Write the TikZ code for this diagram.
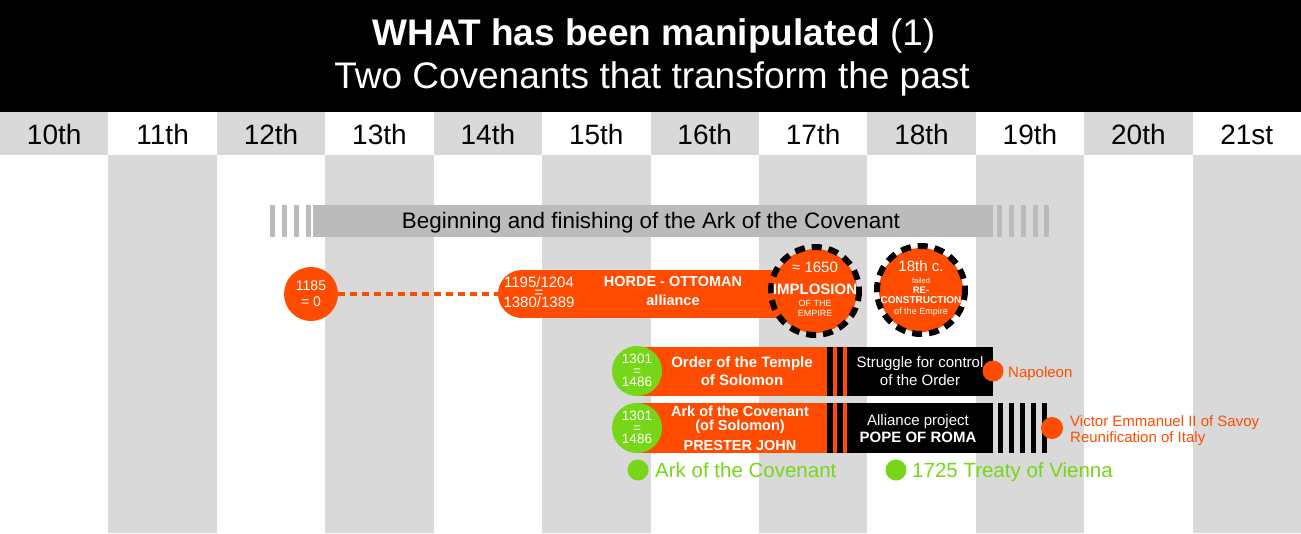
\documentclass[tikz,border=0pt]{standalone}
\usepackage{fontspec}
\setmainfont{Liberation Sans}
\newcommand\myfs[1]{\fontsize{#1}{#1}\selectfont}
\newcommand\myfsl[2]{\fontsize{#1}{#2}\selectfont\lineskiplimit=-100pt\relax}
\definecolor{org}{RGB}{255,76,0}
\definecolor{grn}{RGB}{117,215,24}
\definecolor{lg}{RGB}{217,217,217}
\definecolor{bargray}{RGB}{187,187,187}
\tikzset{
  lbl/.style={inner sep=0pt, anchor=base},
  wlbl/.style={lbl, text=white},
  blbl/.style={lbl, text=black},
  wblock/.style={inner sep=0pt, align=center, text=white},
  olbl/.style={inner sep=0pt, anchor=base west, text=org},
  glbl/.style={inner sep=0pt, anchor=base west, text=grn},
  dashring/.style={draw=black, line width=6pt, dash pattern=on 10pt off 7pt},
  dotline/.style={draw=org, line width=4pt, dash pattern=on 7pt off 5pt},
}
\begin{document}
\begin{tikzpicture}[x=1pt,y=-1pt]
\useasboundingbox (0,0) rectangle (1301,533);
\fill[white] (0,0) rectangle (1301,533);
% title band
\fill[black] (0,0) rectangle (1301,112);
\node[wlbl, font=\myfs{37}] (t1) at (654,45) {\textbf{WHAT has been manipulated} (1)};
\node[wlbl, font=\myfs{37}] (t2) at (652,88) {Two Covenants that transform the past};
% columns
\foreach \lab [count=\n from 0] in {10th,11th,12th,13th,14th,15th,16th,17th,18th,19th,20th,21st}{
  \pgfmathsetmacro\xa{\n*1301/12}
  \pgfmathsetmacro\xb{(\n+1)*1301/12}
  \pgfmathsetmacro\xc{(\n+0.5)*1301/12}
  \ifodd\n
    \fill[lg] (\xa,155) rectangle (\xb,533);
  \else
    \fill[lg] (\xa,112) rectangle (\xb,155);
  \fi
  \node[blbl, font=\myfs{28}] (c\n) at (\xc,144) {\lab};
}
% ark of the covenant bar
\fill[bargray] (313,205) rectangle (993,237);
\foreach \x in {270,282,294,306}{\fill[bargray] (\x,205) rectangle (\x+5,237);}
\foreach \x in {997,1009,1021,1033,1044}{\fill[bargray] (\x,205) rectangle (\x+4.5,237);}
\node[blbl, font=\myfs{22.4}] (arkbar) at (651,228) {Beginning and finishing of the Ark of the Covenant};
% horde row
\node[circle, fill=org, minimum size=54pt, inner sep=0pt] (y1185) at (311,294) {};
\node[wblock, font=\myfsl{14}{16}] (y1185t) at (311,294) {1185\\= 0};
\coordinate (hordeL) at (498,294);
\fill[org] (522,270) rectangle (820,318);
\fill[org] (522,294) circle (24);
\draw[dotline] (y1185.east) -- (hordeL);
\node[wblock, font=\myfsl{15}{10}] (hd1) at (539,292.2) {1195/1204\\=\\1380/1389};
\node[wblock, font=\bfseries\myfsl{14.5}{18.5}] (hd4) at (673,291) {HORDE - OTTOMAN\\alliance};
% implosion circle
\coordinate (imp) at (815,291);
\fill[org] (imp) circle (42);
\draw[dashring] (imp) circle (44);
\node[wlbl, font=\myfs{15}] (im1) at (815,272) {≈ 1650};
\node[wlbl, font=\bfseries\myfs{15}] (im2) at (815,294.5) {IMPLOSION};
\node[wlbl, font=\myfs{9}] (im3) at (815,306.5) {OF THE};
\node[wlbl, font=\myfs{9}] (im4) at (815,316.5) {EMPIRE};
% reconstruction circle
\coordinate (rec) at (921,290);
\fill[org] (rec) circle (42);
\draw[dashring] (rec) circle (44);
\node[wlbl, font=\myfs{15}] (rc1) at (921,271) {18th c.};
\node[wlbl, font=\myfs{7.5}] (rc2) at (921,283.5) {failed};
\node[wlbl, font=\bfseries\myfs{9.5}] (rc3) at (921,293.5) {RE-};
\node[wlbl, font=\bfseries\myfs{10}] (rc4) at (921,303.5) {CONSTRUCTION};
\node[wlbl, font=\myfs{9}] (rc5) at (921,314.5) {of the Empire};
% temple row
\fill[org] (637,347) rectangle (827,396);
\fill[black] (827,347) rectangle (833,396);
\fill[org] (833,347) rectangle (837,396);
\fill[black] (837,347) rectangle (843,396);
\fill[org] (843,347) rectangle (847,396);
\fill[black] (847,347) rectangle (993,396);
\node[circle, fill=grn, minimum size=50pt, inner sep=0pt] (g1) at (637,371) {};
\node[wblock, font=\myfsl{13.5}{11.5}] (g1t) at (637,370.7) {1301\\=\\1486};
\node[wlbl, font=\bfseries\myfs{15}] (tp1) at (742,367.5) {Order of the Temple};
\node[wlbl, font=\bfseries\myfs{15}] (tp2) at (742,385.5) {of Solomon};
\node[wlbl, font=\myfs{15}] (st1) at (920,367) {Struggle for control};
\node[wlbl, font=\myfs{15}] (st2) at (920,385.5) {of the Order};
\node[circle, fill=org, minimum size=21pt, inner sep=0pt] (napdot) at (993,371) {};
\node[olbl, font=\myfs{15}] (nap) at (1008,377) {Napoleon};
% ark row
\fill[org] (637,403) rectangle (827,453);
\fill[black] (827,403) rectangle (833,453);
\fill[org] (833,403) rectangle (837,453);
\fill[black] (837,403) rectangle (843,453);
\fill[org] (843,403) rectangle (847,453);
\fill[black] (847,403) rectangle (993,453);
\foreach \x in {998,1009,1020,1031,1042}{\fill[black] (\x,403) rectangle (\x+5,453);}
\node[circle, fill=grn, minimum size=50pt, inner sep=0pt] (g2) at (637,428) {};
\node[wblock, font=\myfsl{13.5}{11.5}] (g2t) at (637,427.7) {1301\\=\\1486};
\node[wlbl, font=\bfseries\myfs{14.5}] (ak1) at (740,416) {Ark of the Covenant};
\node[wlbl, font=\bfseries\myfs{14.5}] (ak2) at (740,430) {(of Solomon)};
\node[wlbl, font=\bfseries\myfs{14.5}] (ak3) at (740,450.5) {PRESTER JOHN};
\node[wlbl, font=\myfs{15}] (al1) at (918,425) {Alliance project};
\node[wlbl, font=\bfseries\myfs{15}] (al2) at (918,442.5) {POPE OF ROMA};
\node[circle, fill=org, minimum size=22pt, inner sep=0pt] (vedot) at (1052,428) {};
\node[olbl, font=\myfs{15}] (ve1) at (1070,426) {Victor Emmanuel II of Savoy};
\node[olbl, font=\myfs{15}] (ve2) at (1070,442) {Reunification of Italy};
% bottom legend
\node[circle, fill=grn, minimum size=21pt, inner sep=0pt] (gd1) at (638,470) {};
\node[glbl, font=\myfs{20.5}] (gl1) at (655,477) {Ark of the Covenant};
\node[circle, fill=grn, minimum size=21pt, inner sep=0pt] (gd2) at (896,470) {};
\node[glbl, font=\myfs{20.5}] (gl2) at (912,477) {1725 Treaty of Vienna};
\end{tikzpicture}
\end{document}
